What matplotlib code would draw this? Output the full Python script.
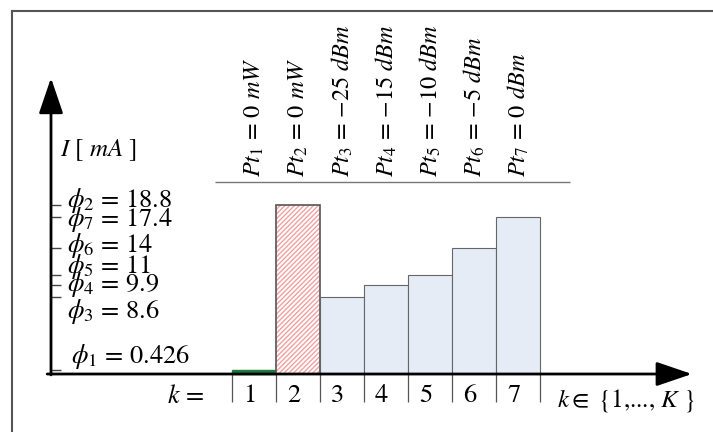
import matplotlib
matplotlib.use("Agg")
import matplotlib.pyplot as plt
import numpy as np

plt.rcParams['mathtext.fontset'] = 'stix'
plt.rcParams['font.family'] = 'STIXGeneral'
plt.rcParams['hatch.linewidth'] = 1.0

# data
k = [1, 2, 3, 4, 5, 6, 7]
current = [0.426, 18.8, 8.6, 9.9, 11, 14, 17.4]
power = ["0 $mW$", "0 $mW$", "\u221225 $dBm$", "\u221215 $dBm$", "\u221210 $dBm$",
         "\u22125 $dBm$", "0 $dBm$"]
phi_order = [2, 7, 6, 5, 4, 3, 1]
phi_text = ["18.8", "17.4", "14", "11", "9.9", "8.6", "0.426"]
phi_label_y = [19.3, 17.2, 14.3, 11.9, 9.9, 6.9, 1.9]

fig = plt.figure(figsize=(7.13, 4.32), dpi=100)
ax = fig.add_axes([0, 0, 1, 1])
ax.set_xlim(-4.773, 11.43)
ax.set_ylim(-6.444, 41.56)
ax.axis('off')

# frame
fig.add_artist(plt.Line2D([12/713, 12/713], [0, 1 - 11/432], color='#555555', lw=1.5))
fig.add_artist(plt.Line2D([12/713, 1], [1 - 11/432, 1 - 11/432], color='#555555', lw=1.5))

# bars
ax.bar(k[0], current[0], width=1, color='#1e7a3c', edgecolor='#1e7a3c', lw=1)
ax.bar(k[1], current[1], width=1, color='white', edgecolor='#f4a0a0', hatch='///////', lw=0)
ax.bar(k[1], current[1], width=1, fill=False, edgecolor='#555555', lw=1.2)
ax.bar(k[2:], current[2:], width=1, color='#e6ecf6', edgecolor='#666666', lw=0.8)

# axes with arrows
y0 = -3.614
ax.annotate('', xy=(10.95, 0), xytext=(-3.70, 0),
            arrowprops=dict(arrowstyle='-|>,head_length=2.2,head_width=0.75',
                            mutation_scale=10, color='black', lw=2, shrinkA=0, shrinkB=0))
ax.annotate('', xy=(y0, 32.9), xytext=(y0, -0.1),
            arrowprops=dict(arrowstyle='-|>,head_length=2.2,head_width=0.75',
                            mutation_scale=10, color='black', lw=2, shrinkA=0, shrinkB=0))

# y ticks
ax.hlines([current[i - 1] for i in phi_order], y0, y0 + 0.23, color='#444444', lw=1)
for n, t, yl in zip(phi_order, phi_text, phi_label_y):
    xl = -3.16 if n == 1 else -3.25
    ax.text(xl, yl, r"$\phi_{%d}$ = %s" % (n, t), fontsize=19, ha='left', va='center')

ax.text(-3.4, 24.9, r"$I$ [ $mA$ ]", fontsize=18, ha='left', va='center')

# power labels above
for kk, p in zip(k, power):
    ax.text(kk, 21.9, r"$Pt_{%d}$ = %s" % (kk, p), fontsize=17.5, rotation=90,
            ha='center', va='bottom')
ax.hlines(21.33, 0.114, 8.18, color='#777777', lw=1)

# k index row
edges = np.arange(0.5, 8.5, 1)
ax.vlines(edges, -3.1, 0, color='#555555', lw=0.9)
for kk in k:
    ax.text(kk - 0.1, -2.4, str(kk), fontsize=19, ha='center', va='center')
ax.text(-0.55, -2.6, r"$k$ =", fontsize=19, ha='center', va='center')
ax.text(9.45, -2.9, r"$k \in$ {1,..., $K$ }", fontsize=18, ha='center', va='center')

fig.savefig("out.png", dpi=100)
